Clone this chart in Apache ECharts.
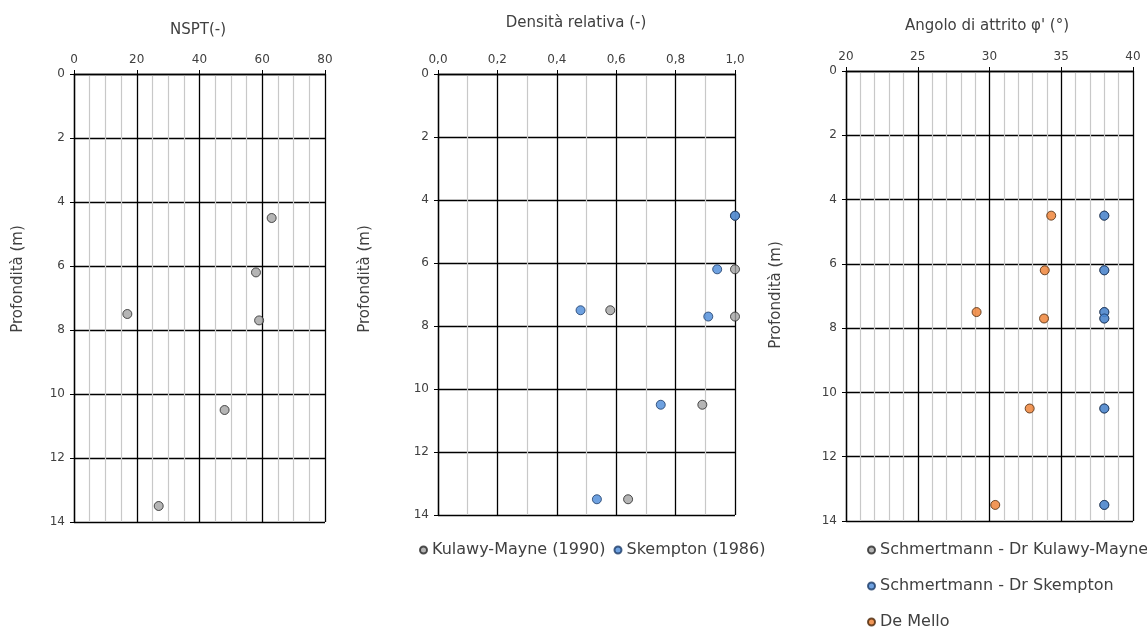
<!DOCTYPE html>
<html>
<head>
<meta charset="utf-8">
<script src="https://cdn.jsdelivr.net/npm/echarts@6/dist/echarts.min.js"></script>
<style>
  html, body { margin: 0; padding: 0; background: #fff; }
  #chart { width: 1147px; height: 629px; }
</style>
</head>
<body>
<div id="chart"></div>
<script>
// Depths of the SPT tests (m)
const depth = [4.5, 6.2, 7.5, 7.7, 10.5, 13.5];
// Blow counts
const nspt = [63, 58, 17, 59, 48, 27];
// Relative density
const drKulawyMayne = [1.0, 1.0, 0.58, 1.0, 0.89, 0.64];
const drSkempton = [1.0, 0.94, 0.48, 0.91, 0.75, 0.535];
// Friction angle (deg)
const phiSchmKulawy = [38, 38, 38, 38, 38, 38];
const phiSchmSkempton = [38, 38, 38, 38, 38, 38];
const phiDeMello = [34.3, 33.85, 29.1, 33.8, 32.8, 30.4];

const panelTitles = ['NSPT(-)', 'Densità relativa (-)', "Angolo di attrito φ' (°)"];
const depthLabel = 'Profondità (m)';
const seriesNames = {
  kul: 'Kulawy-Mayne (1990)',
  skp: 'Skempton (1986)',
  sKul: 'Schmertmann - Dr Kulawy-Mayne',
  sSkp: 'Schmertmann - Dr Skempton',
  mello: 'De Mello'
};

const FONT = 'DejaVu Sans';
const TXT = '#404040';

const pairs = (xs) => xs.map((x, i) => [x, depth[i]]);

const styles = {
  gray:   { color: '#a3a3a3', borderColor: '#262626', borderWidth: 1 },
  blue:   { color: '#4a89d8', borderColor: '#1d3b66', borderWidth: 1 },
  orange: { color: '#ee7d2e', borderColor: '#4a2508', borderWidth: 1 }
};

function xAxisFor(gridIndex, min, max, interval, minorSplit, fmt) {
  return {
    gridIndex, type: 'value', position: 'top', min, max, interval,
    axisLine: { show: true, onZero: false, lineStyle: { color: '#000', width: 1.3 } },
    axisTick: { show: true, length: 4, lineStyle: { color: '#000' } },
    axisLabel: { color: TXT, fontFamily: FONT, fontSize: 12, margin: 8, formatter: fmt },
    splitLine: { show: true, lineStyle: { color: '#000', width: 1.3 } },
    minorTick: { show: false, splitNumber: minorSplit },
    minorSplitLine: { show: true, lineStyle: { color: '#c8c8c8', width: 1.2 } }
  };
}

// The name padding nudges the rotated title along the axis
function yAxisFor(gridIndex, gap, shift) {
  return {
    gridIndex, type: 'value', inverse: true, min: 0, max: 14, interval: 2,
    name: depthLabel, nameLocation: 'middle', nameGap: gap,
    nameTextStyle: { color: TXT, fontFamily: FONT, fontSize: 15, padding: [0, 0, 0, shift] },
    axisLine: { show: true, onZero: false, lineStyle: { color: '#000', width: 1.3 } },
    axisTick: { show: true, length: 4, lineStyle: { color: '#000' } },
    axisLabel: { color: TXT, fontFamily: FONT, fontSize: 12, margin: 9 },
    splitLine: { show: true, lineStyle: { color: '#000', width: 1.3 } }
  };
}

function scatter(name, xi, data, style) {
  return {
    name, type: 'scatter', xAxisIndex: xi, yAxisIndex: xi,
    data, symbol: 'circle', symbolSize: 9, clip: false,
    itemStyle: style, emphasis: { disabled: true }
  };
}

const chart = echarts.init(document.getElementById('chart'), null, { renderer: 'canvas' });

chart.setOption({
  animation: false,
  backgroundColor: '#fff',
  textStyle: { fontFamily: FONT },
  title: [
    { text: panelTitles[0], left: 193, top: 18, textAlign: 'center',
      textStyle: { color: TXT, fontFamily: FONT, fontSize: 15, fontWeight: 'normal' } },
    { text: panelTitles[1], left: 571, top: 11, textAlign: 'center',
      textStyle: { color: TXT, fontFamily: FONT, fontSize: 15, fontWeight: 'normal' } },
    { text: panelTitles[2], left: 982, top: 14, textAlign: 'center',
      textStyle: { color: TXT, fontFamily: FONT, fontSize: 15, fontWeight: 'normal' } }
  ],
  grid: [
    { left: 74, top: 74, width: 251, height: 448 },
    { left: 438, top: 74, width: 297, height: 441 },
    { left: 846, top: 71, width: 287, height: 450 }
  ],
  xAxis: [
    xAxisFor(0, 0, 80, 20, 4),
    xAxisFor(1, 0, 1, 0.2, 2, (v) => v.toFixed(1).replace('.', ',')),
    xAxisFor(2, 20, 40, 5, 5)
  ],
  yAxis: [
    yAxisFor(0, 48, 38),
    yAxisFor(1, 65, 31),
    yAxisFor(2, 62, 2)
  ],
  legend: [
    {
      data: [seriesNames.kul, seriesNames.skp],
      left: 419, top: 542, padding: 0, orient: 'horizontal',
      icon: 'circle', itemWidth: 7, itemHeight: 7, itemGap: 8,
      textStyle: { color: TXT, fontFamily: FONT, fontSize: 16 },
      selectedMode: false
    },
    {
      data: [seriesNames.sKul, seriesNames.sSkp, seriesNames.mello],
      left: 867, top: 542, padding: 0, width: 400, height: 140, orient: 'vertical',
      icon: 'circle', itemWidth: 7, itemHeight: 7, itemGap: 20,
      textStyle: { color: TXT, fontFamily: FONT, fontSize: 16 },
      selectedMode: false
    }
  ],
  series: [
    scatter('NSPT', 0, pairs(nspt), styles.gray),
    scatter(seriesNames.kul, 1, pairs(drKulawyMayne), styles.gray),
    scatter(seriesNames.skp, 1, pairs(drSkempton), styles.blue),
    scatter(seriesNames.sKul, 2, pairs(phiSchmKulawy), styles.gray),
    scatter(seriesNames.sSkp, 2, pairs(phiSchmSkempton), styles.blue),
    scatter(seriesNames.mello, 2, pairs(phiDeMello), styles.orange)
  ]
});
</script>
</body>
</html>
